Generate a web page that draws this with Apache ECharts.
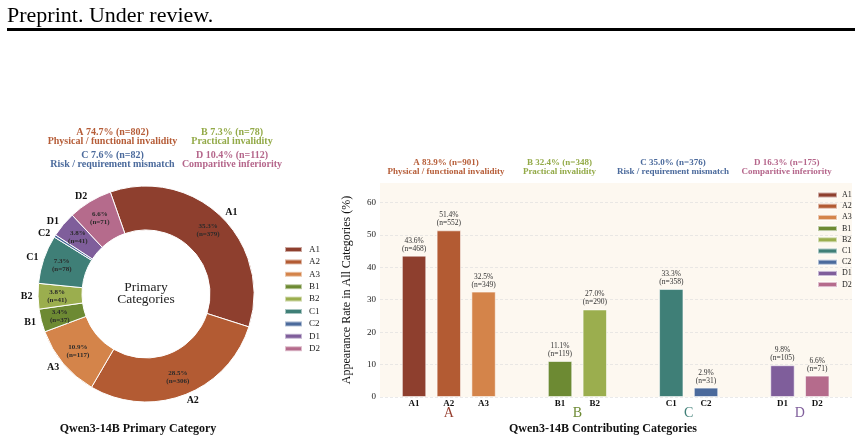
<!DOCTYPE html>
<html>
<head>
<meta charset="utf-8">
<script src="https://cdn.jsdelivr.net/npm/echarts@6/dist/echarts.min.js"></script>
<style>
  html, body { margin: 0; padding: 0; background: #fff; }
  #chart { width: 862px; height: 442px; }
</style>
</head>
<body>
<div id="chart"></div>
<script>
const SERIF = '"Liberation Serif", "DejaVu Serif", serif';

// categories and palette
const categories = ["A1", "A2", "A3", "B1", "B2", "C1", "C2", "D1", "D2"];
const colors = ["#8e3f2e", "#b35b33", "#d4844a", "#6d8a33", "#9bae4e",
                "#3f7f77", "#4b6a9c", "#7f5e9b", "#b56b8c"];

// primary category counts (pie)
const primaryCounts = [379, 306, 117, 37, 41, 78, 4, 41, 71];

// contributing categories (bars)
const contribPct = [43.6, 51.4, 32.5, 11.1, 27.0, 33.3, 2.9, 9.8, 6.6];
const contribCounts = [468, 552, 349, 119, 290, 358, 31, 105, 71];
const barPositions = [0, 1, 2, 4.2, 5.2, 7.4, 8.4, 10.6, 11.6];

// group letters under the bar axis
const groupLetters = ["A", "B", "C", "D"];
const groupCenters = [1, 4.7, 7.9, 11.1];
const groupColors = ["#963f2f", "#6d8a33", "#3f7f77", "#7f5e9b"];

// header texts
const headerColors = ["#b65d38", "#93aa48", "#4b6a9c", "#b5668b"];
const pieHeaders = [
  ["A 74.7% (n=802)", "Physical / functional invalidity"],
  ["B 7.3% (n=78)", "Practical invalidity"],
  ["C 7.6% (n=82)", "Risk / requirement mismatch"],
  ["D 10.4% (n=112)", "Comparitive inferiority"],
];
const barHeaders = [
  ["A 83.9% (n=901)", "Physical / functional invalidity"],
  ["B 32.4% (n=348)", "Practical invalidity"],
  ["C 35.0% (n=376)", "Risk / requirement mismatch"],
  ["D 16.3% (n=175)", "Comparitive inferiority"],
];

const total = primaryCounts.reduce((a, b) => a + b, 0);

function txt(text, x, y, size, color, weight, align) {
  return {
    type: "text",
    silent: true,
    style: {
      text: text,
      x: x,
      y: y,
      font: (weight || "normal") + " " + size + "px " + SERIF,
      fill: color || "#111",
      align: align || "center",
      textAlign: align || "center",
      verticalAlign: "middle",
      textVerticalAlign: "middle",
      lineHeight: size * 1.0,
    },
  };
}

var graphics = [
  txt("Preprint. Under review.", 7, 16, 22, "#000", "normal", "left"),
  { type: "rect", silent: true, shape: { x: 7, y: 28, width: 848, height: 3 }, style: { fill: "#000" } },
  txt("Primary", 146, 287, 13.5, "#222"),
  txt("Categories", 146, 299, 13.5, "#222"),
  txt("Qwen3-14B Primary Category", 138, 429, 12, "#111", "bold"),
  txt("Qwen3-14B Contributing Categories", 603, 429, 12, "#111", "bold"),
];
const pieHeadPos = [[112.5, 132], [232, 132], [112.5, 155], [232, 155]];
pieHeaders.forEach(function (h, i) {
  graphics.push(txt(h[0], pieHeadPos[i][0], pieHeadPos[i][1], 10, headerColors[i], "bold"));
  graphics.push(txt(h[1], pieHeadPos[i][0], pieHeadPos[i][1] + 9.5, 10, headerColors[i], "bold"));
});
const barHeadX = [446, 559.5, 673, 786.7];
barHeaders.forEach(function (h, i) {
  graphics.push(txt(h[0], barHeadX[i], 163, 9, headerColors[i], "bold"));
  graphics.push(txt(h[1], barHeadX[i], 172, 9, headerColors[i], "bold"));
});

const pieData = categories.map(function (c, i) {
  return { name: c, value: primaryCounts[i], itemStyle: { color: colors[i] } };
});

var series = [
  {
    type: "pie",
    name: "Primary",
    center: [146, 294],
    radius: [64, 108],
    startAngle: 109.3,
    clockwise: true,
    silent: true,
    data: pieData,
    itemStyle: { borderColor: "#fff", borderWidth: 1 },
    label: {
      show: true,
      position: "inside",
      formatter: function (p) {
        return ((primaryCounts[p.dataIndex] / total) * 100).toFixed(1) + "%\n(n=" + p.value + ")";
      },
      fontFamily: SERIF,
      fontWeight: "bold",
      fontSize: 7,
      lineHeight: 8,
      color: "#2a2a2a",
    },
    labelLine: { show: false },
  },
  {
    type: "pie",
    name: "PrimaryLabels",
    center: [146, 294],
    radius: [64, 108],
    startAngle: 109.3,
    clockwise: true,
    silent: true,
    avoidLabelOverlap: false,
    data: categories.map(function (c, i) {
      return { name: c, value: primaryCounts[i], itemStyle: { color: "rgba(0,0,0,0)" } };
    }),
    label: {
      show: true,
      position: "outside",
      alignTo: "none",
      distanceToLabelLine: 0,
      formatter: "{b}",
      fontFamily: SERIF,
      fontWeight: "bold",
      fontSize: 10,
      color: "#111",
    },
    labelLine: { show: false, length: 5.5, length2: 0 },
  },
];

categories.forEach(function (c, i) {
  series.push({
    type: "bar",
    name: c,
    xAxisIndex: 0,
    yAxisIndex: 0,
    barWidth: 24.4,
    barGap: "-100%",
    data: [[barPositions[i], contribPct[i]]],
    itemStyle: { color: colors[i], borderColor: "rgba(255,255,255,0.55)", borderWidth: 1 },
    label: {
      show: true,
      position: "top",
      distance: 3,
      formatter: function (p) {
        return contribPct[i].toFixed(1) + "%\n(n=" + contribCounts[i] + ")";
      },
      fontFamily: SERIF,
      fontSize: 7.5,
      lineHeight: 8,
      color: "#333",
    },
  });
});

const chart = echarts.init(document.getElementById("chart"));
const option = {
  animation: false,
  backgroundColor: "#fff",
  graphic: graphics,
  legend: [
    {
      orient: "vertical",
      left: 279,
      top: 240,
      icon: "rect",
      itemWidth: 17,
      itemHeight: 5,
      itemGap: 3.4,
      data: categories,
      selectedMode: false,
      textStyle: { fontFamily: SERIF, fontSize: 9, color: "#222", padding: [0, 0, 0, 2] },
    },
    {
      orient: "vertical",
      left: 812,
      top: 186,
      icon: "rect",
      itemWidth: 19,
      itemHeight: 5,
      itemGap: 3.2,
      data: categories,
      selectedMode: false,
      textStyle: { fontFamily: SERIF, fontSize: 8, color: "#222" },
    },
  ],
  grid: {
    left: 380,
    right: 10,
    top: 183,
    bottom: 45,
    show: true,
    backgroundColor: "#fdf8f0",
    borderWidth: 0,
  },
  xAxis: [
    {
      type: "value",
      min: -0.98,
      max: 12.6,
      axisLine: { show: false },
      axisTick: { show: false },
      splitLine: { show: false },
      axisLabel: {
        customValues: barPositions,
        formatter: function (v) {
          const k = barPositions.findIndex(function (p) { return Math.abs(p - v) < 1e-6; });
          return k >= 0 ? categories[k] : "";
        },
        margin: 2,
        fontFamily: SERIF,
        fontWeight: "bold",
        fontSize: 9,
        color: "#111",
      },
    },
    {
      type: "value",
      min: -0.98,
      max: 12.6,
      position: "bottom",
      axisLine: { show: false },
      axisTick: { show: false },
      splitLine: { show: false },
      axisLabel: {
        customValues: groupCenters,
        formatter: function (v) {
          const k = groupCenters.findIndex(function (p) { return Math.abs(p - v) < 1e-6; });
          return k >= 0 ? "{g" + k + "|" + groupLetters[k] + "}" : "";
        },
        margin: 9,
        rich: {
          g0: { color: groupColors[0], fontFamily: SERIF, fontSize: 14 },
          g1: { color: groupColors[1], fontFamily: SERIF, fontSize: 14 },
          g2: { color: groupColors[2], fontFamily: SERIF, fontSize: 14 },
          g3: { color: groupColors[3], fontFamily: SERIF, fontSize: 14 },
        },
      },
    },
  ],
  yAxis: {
    type: "value",
    min: 0,
    max: 66,
    interval: 10,
    name: "Appearance Rate in All Categories (%)",
    nameLocation: "middle",
    nameGap: 27,
    nameTextStyle: { fontFamily: SERIF, fontSize: 12, color: "#111" },
    axisLine: { show: false },
    axisTick: { show: false },
    axisLabel: {
      margin: 4,
      fontFamily: SERIF,
      fontSize: 9,
      color: "#222",
      showMaxLabel: false,
      formatter: function (v) { return v % 10 === 0 ? String(v) : ""; },
    },
    splitLine: {
      show: true,
      showMaxLine: false,
      lineStyle: { color: "#dcdcdc", width: 0.6, type: [3, 2] },
    },
  },
  series: series,
};
chart.setOption(option);
</script>
</body>
</html>
